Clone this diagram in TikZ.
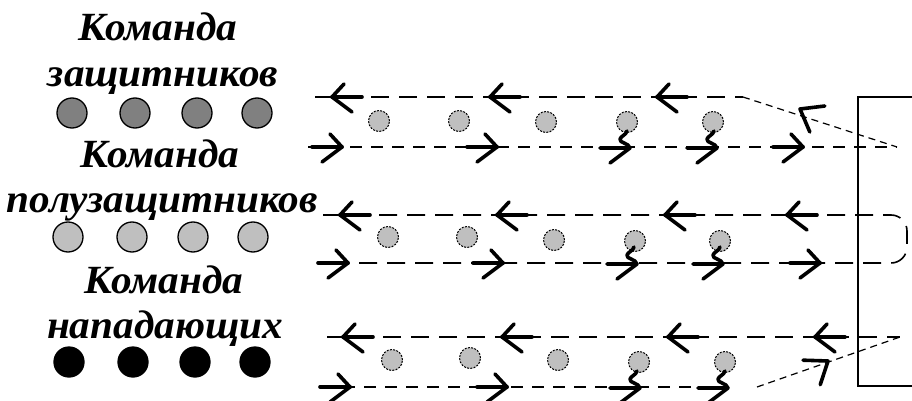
\documentclass[tikz,border=0pt]{standalone}
\usepackage{fontspec}
\setmainfont{Liberation Serif}
\begin{document}
\begin{tikzpicture}[x=1pt,y=-1pt,
  lbl/.style={font=\fontsize{40}{40}\selectfont\bfseries\itshape, anchor=base, inner sep=0pt, xscale=1.03},
  bigdot/.style={circle, draw=black, line width=1.3pt, minimum size=30pt, inner sep=0pt},
  ball/.style={circle, draw=black, line width=1pt, dash pattern=on 2pt off 1.3pt, fill=gray!50, minimum size=21pt, inner sep=0pt},
  upline/.style={line width=1.6pt, dash pattern=on 18pt off 10pt},
  lowline/.style={line width=1.6pt, dash pattern=on 12pt off 9pt},
  diagline/.style={line width=1.2pt, dash pattern=on 7pt off 5pt},
  arrowline/.style={line width=3.6pt, line cap=round, line join=round},
  pics/rarrow/.style={code={
    \draw[arrowline] (-30,0) -- (0,0);
    \draw[arrowline] (-12,-13) -- (0,0) -- (-20,15);}},
  pics/karrow/.style={code={
    \draw[arrowline] (-30,0) -- (0,0) -- (-20,15);
    \draw[arrowline] (0,0) .. controls (-1,-5) and (-11,-5) .. (-10,-9)
                          .. controls (-9,-12) and (-4,-13) .. (-3,-17);}},
  pics/tiponly/.style={code={
    \draw[arrowline] (-20,-15) -- (0,0) -- (-20,15);}}
]
\path[use as bounding box] (0,0) rectangle (912,401);

% team captions
\node[lbl] (t1a) at (158,41) {Команда};
\node[lbl] (t1b) at (163,87) {защитников};
\node[lbl] (t2a) at (160,167) {Команда};
\node[lbl] (t2b) at (162,212) {полузащитников};
\node[lbl] (t3a) at (164,293) {Команда};
\node[lbl] (t3b) at (165,338) {нападающих};

% team players
\foreach \i/\x in {1/72,2/135,3/197,4/257}
  \node[bigdot, fill=gray] (d\i) at (\x,113) {};
\foreach \i/\x in {1/68,2/132,3/193,4/253}
  \node[bigdot, fill=gray!50] (m\i) at (\x,237) {};
\foreach \i/\x in {1/69,2/133,3/195,4/255}
  \node[bigdot, fill=black] (f\i) at (\x,362) {};

% goal frame
\coordinate (g1) at (912,97);
\coordinate (g2) at (858,97);
\coordinate (g3) at (858,386);
\coordinate (g4) at (912,386);
\draw[line width=1.6pt] (g1) -- (g2) -- (g3) -- (g4);

% lane A
\coordinate (a1) at (315,97);
\coordinate (a2) at (743,97);
\coordinate (a3) at (897,147);
\coordinate (a4) at (308,147);
\draw[upline] (a1) -- (a2);
\draw[diagline] (a2) -- (a3);
\draw[lowline] (a4) -- (a3);

% lane B
\coordinate (b1) at (323,215);
\coordinate (b2) at (907,215);
\coordinate (b3) at (907,263);
\coordinate (b4) at (317,263);
\draw[upline, rounded corners=16pt] (b1) -- (b2) -- (b3) -- (b4);

% lane C
\coordinate (c1) at (327,337);
\coordinate (c2) at (900,337);
\coordinate (c4) at (322,387);
\coordinate (c5) at (728,387);
\coordinate (c6) at (757,387);
\draw[upline] (c1) -- (c2);
\draw[lowline] (c4) -- (c5);
\draw[diagline] (c6) -- (c2);

% players in the lanes
\foreach \i/\x/\y in {1/379/121,2/459/121,3/546/122,4/627/122,5/713/122}
  \node[ball] (pa\i) at (\x,\y) {};
\foreach \i/\x/\y in {1/388/237,2/467/237,3/554/240,4/635/241,5/720/241}
  \node[ball] (pb\i) at (\x,\y) {};
\foreach \i/\x/\y in {1/392/360,2/470/358,3/558/360,4/639/362,5/725/362}
  \node[ball] (pc\i) at (\x,\y) {};

% arrows, lane A
\foreach \x in {332,490,657} \pic[xscale=-1] at (\x,97) {rarrow};
\foreach \x in {342,497,803} \pic at (\x,147) {rarrow};
\foreach \x in {630,717} \pic at (\x,148) {karrow};
\pic[rotate=150] at (800,109) {tiponly};

% arrows, lane B
\foreach \x in {340,497,665,787} \pic[xscale=-1] at (\x,215) {rarrow};
\foreach \x in {348,503,820} \pic at (\x,263) {rarrow};
\foreach \x in {637,723} \pic at (\x,264) {karrow};

% arrows, lane C
\foreach \x in {343,502,668,815} \pic[xscale=-1] at (\x,337) {rarrow};
\foreach \x in {350,507} \pic at (\x,387) {rarrow};
\foreach \x in {640,728} \pic at (\x,388) {karrow};
\pic[rotate=35] at (828,361) {tiponly};
\end{tikzpicture}
\end{document}
